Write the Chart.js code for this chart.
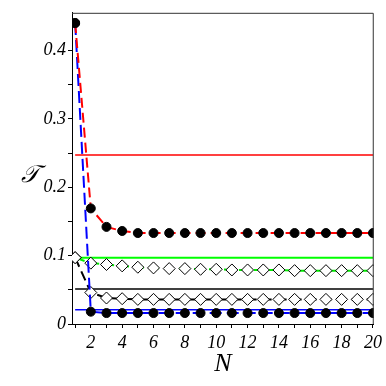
<!DOCTYPE html>
<html>
<head>
<meta charset="utf-8">
<script src="https://cdn.jsdelivr.net/npm/chart.js@4/dist/chart.umd.min.js"></script>
<style>
html,body{margin:0;padding:0;background:#fff;}
#wrap{width:386px;height:386px;position:relative;}
</style>
</head>
<body>
<div id="wrap"><canvas id="c" width="386" height="386"></canvas></div>
<script>
// ---- data ----
const N = [1,2,3,4,5,6,7,8,9,10,11,12,13,14,15,16,17,18,19,20];
const redDots   = [0.44,0.169,0.142,0.136,0.133,0.133,0.133,0.133,0.133,0.133,0.133,0.133,0.133,0.133,0.133,0.133,0.133,0.133,0.133,0.133];
const blueDots  = [0.44,0.018,0.016,0.016,0.016,0.016,0.016,0.016,0.016,0.016,0.016,0.016,0.016,0.016,0.016,0.016,0.016,0.016,0.016,0.016];
const greenDiam = [0.097,0.089,0.087,0.085,0.083,0.082,0.081,0.081,0.080,0.080,0.079,0.079,0.079,0.079,0.078,0.078,0.078,0.078,0.078,0.078];
const blackDiam = [0.097,0.046,0.038,0.037,0.036,0.036,0.036,0.036,0.036,0.036,0.036,0.036,0.036,0.036,0.036,0.036,0.036,0.036,0.036,0.036];
const redLevel = 0.247, greenLevel = 0.097, blackLevel = 0.051, blueLevel = 0.021;
const xTickLabels = ['2','4','6','8','10','12','14','16','18','20'];
const yTickLabels = ['0','0.1','0.2','0.3','0.4'];

const pts = arr => arr.map((v,i)=>({x:N[i],y:v}));
const level = v => [{x:N[0],y:v},{x:N[N.length-1],y:v}];

const frame = {
  id:'frame',
  afterDraw(chart){
    const {ctx, chartArea:a} = chart;
    ctx.save();
    ctx.strokeStyle = '#333';
    ctx.lineWidth = 1;
    ctx.beginPath();
    ctx.moveTo(a.left, a.top+0.5);
    ctx.lineTo(a.right-0.5, a.top+0.5);
    ctx.lineTo(a.right-0.5, a.bottom);
    ctx.stroke();
    ctx.fillStyle = '#000';
    ctx.font = 'italic 24px "DejaVu Serif", "Liberation Serif", serif';
    ctx.textAlign = 'center';
    ctx.textBaseline = 'middle';
    ctx.fillText('𝒯', 30, 176);
    ctx.restore();
  }
};

const tickFont = {family:'"Liberation Serif", serif', style:'italic', size:18};

new Chart(document.getElementById('c'), {
  type:'line',
  data:{
    datasets:[
      {data:pts(redDots), borderColor:'#ff0000', borderWidth:2, borderDash:[10,5],
       pointRadius:4.5, pointBackgroundColor:'#000', pointBorderColor:'#000', pointBorderWidth:1, order:1},
      {data:pts(blueDots), borderColor:'#0000ff', borderWidth:2, borderDash:[12,5],
       pointRadius:4.5, pointBackgroundColor:'#000', pointBorderColor:'#000', pointBorderWidth:1, order:2},
      {data:pts(greenDiam), borderColor:'#00ee00', borderWidth:2, borderDash:[10,5],
       pointStyle:'rectRot', pointRadius:6, pointBackgroundColor:'#fff', pointBorderColor:'#000', pointBorderWidth:1, order:3},
      {data:pts(blackDiam), borderColor:'#000', borderWidth:2, borderDash:[10,5],
       pointStyle:'rectRot', pointRadius:6, pointBackgroundColor:'#fff', pointBorderColor:'#000', pointBorderWidth:1, order:4},
      {data:level(redLevel), borderColor:'#ff0000', borderWidth:1.5, pointRadius:0, order:5},
      {data:level(greenLevel), borderColor:'#00ff00', borderWidth:2, pointRadius:0, order:6},
      {data:level(blackLevel), borderColor:'#000', borderWidth:1.5, pointRadius:0, order:7},
      {data:level(blueLevel), borderColor:'#0000ff', borderWidth:1.5, pointRadius:0, order:8}
    ]
  },
  options:{
    responsive:false,
    animation:false,
    layout:{padding:{top:6,right:12,left:0,bottom:0}},
    plugins:{legend:{display:false}, tooltip:{enabled:false}},
    scales:{
      x:{
        type:'linear', min:0.8, max:20.05,
        afterBuildTicks(s){ s.ticks = N.map(v=>({value:v})); },
        afterFit(s){ s.height = 62; },
        grid:{drawOnChartArea:false, drawTicks:true, tickLength:4, color:'#000'},
        border:{color:'#000', width:1},
        ticks:{color:'#000', font:tickFont, padding:4, maxRotation:0, autoSkip:false,
          callback:(v)=> (v%2===0 ? xTickLabels[v/2-1] : '')},
        title:{display:true, text:'N', color:'#000',
          font:{family:'"Liberation Serif", serif', style:'italic', size:26}, padding:{top:0,bottom:6}}
      },
      y:{
        min:0, max:0.455,
        afterBuildTicks(s){ const t=[]; for(let i=0;i<=8;i++) t.push({value:i*0.05}); s.ticks=t; },
        afterFit(s){ s.width = 72; },
        grid:{drawOnChartArea:false, drawTicks:true, tickLength:4, color:'#000'},
        border:{color:'#000', width:1},
        ticks:{color:'#000', font:tickFont, padding:2, autoSkip:false,
          callback:(v,i)=> (i%2===0 ? yTickLabels[i/2] : '')}
      }
    }
  },
  plugins:[frame]
});
</script>
</body>
</html>
